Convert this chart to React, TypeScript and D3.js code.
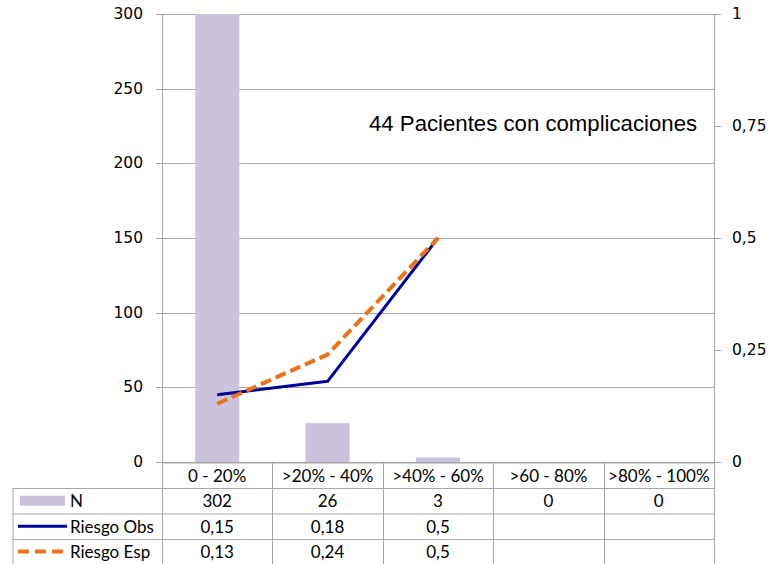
import React from "react";
import * as d3 from "d3";

const categories = ["0 - 20%", ">20% - 40%", ">40% - 60%", ">60 - 80%", ">80% - 100%"];
const countN = [302, 26, 3, 0, 0];
const riesgoObs: (number | null)[] = [0.15, 0.18, 0.5, null, null];
const riesgoEsp: (number | null)[] = [0.13, 0.24, 0.5, null, null];
const leftTicks = [0, 50, 100, 150, 200, 250, 300];
const rightTicks = [0, 0.25, 0.5, 0.75, 1];
const annotation = "44 Pacientes con complicaciones";

const W = 773;
const H = 564;
const plotL = 162;
const plotR = 714;
const plotT = 14;
const plotB = 462;
const tableL = 12.5;
const rowLines = [462.5, 488, 513.5, 539, 564];

const fmtNum = (v: number) => String(v).replace(".", ",");

export default function App() {
  const x = d3.scaleBand<string>().domain(categories).range([plotL, plotR]).padding(0);
  const yL = d3.scaleLinear().domain([0, 300]).range([plotB, plotT]);
  const yR = d3.scaleLinear().domain([0, 1]).range([plotB, plotT]);
  const bw = x.bandwidth() / 2.5;
  const cx = (c: string) => (x(c) as number) + x.bandwidth() / 2;

  const lineGen = d3
    .line<number | null>()
    .defined((d) => d !== null)
    .x((_, i) => cx(categories[i]))
    .y((d) => yR(d as number));

  const grid = "#a6a6a6";
  const tableFont = "Lato, 'Noto Sans', sans-serif";
  const axisFont = "'DejaVu Sans', Verdana, sans-serif";
  const tableSize = 17;
  const rowMid = (r: number) => (rowLines[r] + rowLines[r + 1]) / 2;
  const rows = [
    { label: "N", values: countN.map((v) => String(v)) },
    { label: "Riesgo Obs", values: riesgoObs.map((v) => (v === null ? "" : fmtNum(v))) },
    { label: "Riesgo Esp", values: riesgoEsp.map((v) => (v === null ? "" : fmtNum(v))) },
  ];

  return (
    <svg
      width={W}
      height={H}
      style={{ position: "absolute", left: 0, top: 0, background: "#fff" }}
    >
      {/* horizontal gridlines */}
      {leftTicks.map((t) => (
        <line
          key={"g" + t}
          x1={plotL - 6}
          x2={plotR + (t === 0 ? 7 : 0)}
          y1={Math.round(yL(t)) + 0.5}
          y2={Math.round(yL(t)) + 0.5}
          stroke={grid}
          strokeWidth={1}
        />
      ))}
      {/* right axis ticks */}
      {rightTicks.map((t) => (
        <line
          key={"rt" + t}
          x1={plotR}
          x2={plotR + 7}
          y1={Math.round(yR(t)) + 0.5}
          y2={Math.round(yR(t)) + 0.5}
          stroke={grid}
        />
      ))}

      {/* bars (values above the axis maximum are clipped) */}
      {countN.map((v, i) => {
        const c = categories[i];
        const top = yL(Math.min(v, 300));
        return (
          <rect
            key={"b" + i}
            x={cx(c) - bw / 2}
            y={top}
            width={bw}
            height={plotB - top}
            fill="#cbc2dc"
          />
        );
      })}

      {/* axis lines */}
      <line x1={plotL + 0.5} x2={plotL + 0.5} y1={plotT} y2={H} stroke={grid} />
      <line x1={plotR + 0.5} x2={plotR + 0.5} y1={plotT} y2={H} stroke={grid} />

      {/* risk lines */}
      <path d={lineGen(riesgoObs) || ""} fill="none" stroke="#000096" strokeWidth={3} strokeLinejoin="round" />
      <path
        d={lineGen(riesgoEsp) || ""}
        fill="none"
        stroke="#e8731c"
        strokeWidth={4}
        strokeDasharray="11,5"
      />

      {/* left axis labels */}
      {leftTicks.map((t) => (
        <text
          key={"ll" + t}
          x={143}
          y={yL(t)}
          textAnchor="end"
          dominantBaseline="central"
          fontFamily={axisFont}
          fontSize={15.5}
          fill="#000"
        >
          {t}
        </text>
      ))}
      {/* right axis labels */}
      {rightTicks.map((t) => (
        <text
          key={"rl" + t}
          x={732}
          y={yR(t)}
          textAnchor="start"
          dominantBaseline="central"
          fontFamily={axisFont}
          fontSize={15.5}
          fill="#000"
        >
          {fmtNum(t)}
        </text>
      ))}

      <text
        x={369}
        y={123}
        dominantBaseline="central"
        fontFamily="'Liberation Sans', Arial, sans-serif"
        fontSize={22.2}
        fill="#000"
      >
        {annotation}
      </text>

      {/* data table */}
      {rowLines.slice(1).map((y, i) => (
        <line key={"tr" + i} x1={tableL} x2={plotR} y1={y + 0.5} y2={y + 0.5} stroke={grid} />
      ))}
      <line x1={plotL} x2={plotR} y1={rowLines[0] + 0.5} y2={rowLines[0] + 0.5} stroke={grid} />
      <line x1={tableL + 0.5} x2={tableL + 0.5} y1={rowLines[1]} y2={H} stroke={grid} />
      {categories.slice(1).map((c) => (
        <line
          key={"tv" + c}
          x1={Math.round(x(c) as number) + 0.5}
          x2={Math.round(x(c) as number) + 0.5}
          y1={rowLines[0]}
          y2={H}
          stroke={grid}
        />
      ))}
      {categories.map((c) => (
        <text
          key={"th" + c}
          x={cx(c)}
          y={rowMid(0)}
          textAnchor="middle"
          dominantBaseline="central"
          fontFamily={tableFont}
          fontSize={tableSize}
          fill="#000"
        >
          {c}
        </text>
      ))}
      {rows.map((r, ri) => (
        <g key={"row" + ri}>
          {r.values.map((v, ci) => (
            <text
              key={ci}
              x={cx(categories[ci])}
              y={rowMid(ri + 1)}
              textAnchor="middle"
              dominantBaseline="central"
              fontFamily={tableFont}
              fontSize={tableSize}
              fill="#000"
            >
              {v}
            </text>
          ))}
          <text
            x={70}
            y={rowMid(ri + 1)}
            dominantBaseline="central"
            fontFamily={tableFont}
            fontSize={tableSize}
            fill="#000"
          >
            {r.label}
          </text>
        </g>
      ))}
      {/* legend keys */}
      <rect x={20} y={rowMid(1) - 5} width={45} height={10} fill="#cbc2dc" />
      <line x1={18} x2={67} y1={rowMid(2)} y2={rowMid(2)} stroke="#000096" strokeWidth={3} />
      <line
        x1={18}
        x2={67}
        y1={rowMid(3)}
        y2={rowMid(3)}
        stroke="#e8731c"
        strokeWidth={4}
        strokeDasharray="11,6"
      />
    </svg>
  );
}
